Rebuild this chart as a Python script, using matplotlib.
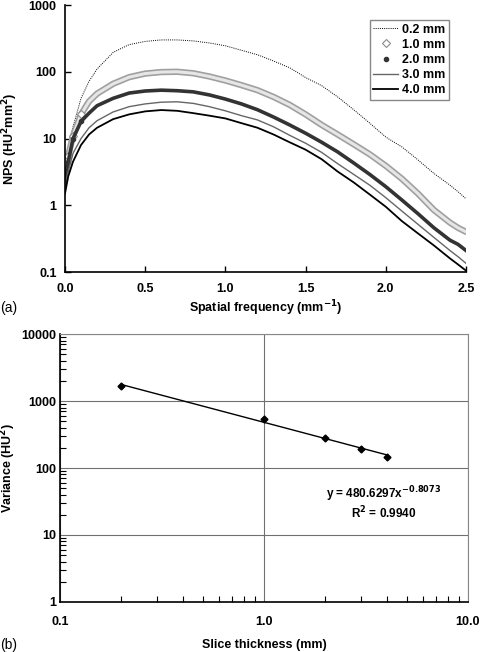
import numpy as np
import matplotlib
matplotlib.use("Agg")
import matplotlib.pyplot as plt
from matplotlib.lines import Line2D

plt.rcParams['font.family'] = ['Liberation Sans', 'DejaVu Sans']
plt.rcParams['font.weight'] = 'bold'
plt.rcParams['mathtext.default'] = 'bf'

# (a) NPS curves
freq = [0, 0.02, 0.05, 0.1, 0.15, 0.2, 0.3, 0.4, 0.5, 0.6, 0.7, 0.8, 0.9, 1.0, 1.1,
        1.2, 1.3, 1.4, 1.5, 1.6, 1.7, 1.8, 1.9, 2.0, 2.1, 2.2, 2.3, 2.4, 2.45, 2.5]
nps_02 = [3.5, 7, 15, 40, 72, 110, 195, 255, 285, 300, 300, 290, 270, 245, 210,
          180, 145, 115, 82, 62, 42, 27, 17, 10.5, 7.5, 4.8, 3.0, 2.0, 1.6, 1.25]
nps_10 = [3.4, 5.5, 11, 23, 36, 47, 66, 83, 94, 99, 100, 95, 85, 74, 63,
          53, 42, 32, 23, 16, 11.5, 8.2, 5.8, 3.9, 2.5, 1.5, 0.85, 0.55, 0.46, 0.40]
nps_20 = [2.5, 4.5, 10, 18, 24, 31, 40, 48, 51.5, 53, 52, 50, 45, 39, 33,
          27, 21, 16, 12, 8.8, 6.3, 4.3, 2.9, 1.9, 1.2, 0.75, 0.46, 0.30, 0.26, 0.21]
nps_30 = [2.0, 3.2, 6, 10, 14.5, 18.5, 25, 30, 33, 35, 35.5, 33.6, 30, 26, 22,
          19, 15, 11.2, 8.5, 6.2, 4.2, 2.9, 2.0, 1.3, 0.82, 0.52, 0.33, 0.21, 0.17, 0.135]
nps_40 = [1.5, 2.7, 4.5, 8, 11.5, 14.5, 19.5, 23, 25.5, 26.7, 26, 24, 22, 20, 17,
          14.5, 11.5, 8.8, 6.8, 4.9, 3.2, 2.2, 1.45, 0.95, 0.58, 0.38, 0.25, 0.16, 0.13, 0.105]

# (b) variance vs slice thickness
thickness = [0.2, 1.0, 2.0, 3.0, 4.0]
variance = [1690, 538, 283, 194, 147]
fit_a = 480.6297
fit_b = -0.8073
fit_r2 = 0.9940

fig = plt.figure(figsize=(4.8, 6.52), dpi=100)

# ---- panel (a)
ax1 = fig.add_axes([0.1354, 0.5828, 0.8354, 0.4095])
ax1.plot(freq, nps_02, color='black', lw=0.7, ls=(0, (1, 1.2)))
ax1.plot(freq, nps_10, color='#a0a0a0', lw=4.6, solid_capstyle='round')
ax1.plot(freq, nps_10, color='#e6e6e6', lw=2.2, marker='D', ms=4, mfc='white',
         mec='#8a8a8a', mew=0.8, markevery=slice(0, 4))
ax1.plot(freq, nps_20, color='#333333', lw=2.6, marker='o', ms=3,
         markevery=slice(0, 4))
ax1.plot(freq, nps_30, color='#666666', lw=1.0)
ax1.plot(freq, nps_40, color='black', lw=1.3)

ax1.set_yscale('log')
ax1.set_xlim(0, 2.5)
ax1.set_ylim(0.1, 1000)
ax1.set_xticks([0, 0.5, 1.0, 1.5, 2.0, 2.5])
ax1.set_xticklabels(['0.0', '0.5', '1.0', '1.5', '2.0', '2.5'])
ax1.set_yticks([0.1, 1, 10, 100, 1000])
ax1.set_yticklabels(['0.1', '1', '10', '100', '1000'])
ax1.yaxis.set_minor_locator(matplotlib.ticker.NullLocator())
ax1.tick_params(direction='in', length=4, width=1, labelsize=9, pad=6)
ax1.tick_params(axis='x', pad=8)
for s in ['top', 'right']:
    ax1.spines[s].set_visible(False)
for s in ['left', 'bottom']:
    ax1.spines[s].set_linewidth(1.2)
ax1.set_xlabel('Spatial frequency (mm$^{-1}$)', fontsize=9, fontweight='bold', labelpad=2)
ax1.set_ylabel('NPS (HU$^2$mm$^2$)', fontsize=9, fontweight='bold', labelpad=6)

handles = [
    Line2D([], [], color='black', lw=0.7, ls=(0, (1, 1.2))),
    Line2D([], [], ls='none', marker='D', ms=4, mfc='white', mec='#8a8a8a', mew=0.8),
    Line2D([], [], ls='none', marker='o', ms=3, color='#333333'),
    Line2D([], [], color='#666666', lw=1.0),
    Line2D([], [], color='black', lw=1.3),
]
labels = ['0.2 mm', '1.0 mm', '2.0 mm', '3.0 mm', '4.0 mm']
leg = ax1.legend(handles, labels, loc='upper right', bbox_to_anchor=(0.958, 0.944),
                 prop={'weight': 'bold', 'size': 9}, fancybox=False,
                 edgecolor='#888888', framealpha=1, handlelength=2.0,
                 handletextpad=0.3, labelspacing=0.25, borderpad=0.3,
                 borderaxespad=0)
leg.get_frame().set_linewidth(1.0)

fig.text(0.0, 0.521, '(a)', fontsize=10, fontweight='normal')

# ---- panel (b)
ax2 = fig.add_axes([0.125, 0.0767, 0.85, 0.411])
fit_x = np.geomspace(thickness[0], thickness[-1], 50)
ax2.plot(fit_x, fit_a * fit_x ** fit_b, color='black', lw=1.0)
ax2.plot(thickness, variance, ls='none', marker='D', ms=3.5, color='black')
ax2.set_xscale('log')
ax2.set_yscale('log')
ax2.set_xlim(0.1, 10)
ax2.set_ylim(1, 10000)
ax2.set_xticks([0.1, 1, 10])
ax2.set_xticklabels(['0.1', '1.0', '10.0'])
ax2.set_yticks([1, 10, 100, 1000, 10000])
ax2.set_yticklabels(['1', '10', '100', '1000', '10000'])
ax2.grid(True, which='major', color='#707070', lw=0.8)
ax2.tick_params(which='both', direction='in', labelsize=9)
ax2.tick_params(which='major', length=0)
ax2.tick_params(which='minor', length=4, width=0.8)
ax2.tick_params(axis='x', pad=10)
ax2.tick_params(axis='y', pad=3)
for s in ['top', 'right']:
    ax2.spines[s].set_color('#888888')
for s in ['left', 'bottom']:
    ax2.spines[s].set_linewidth(1.2)
ax2.set_xlabel('Slice thickness (mm)', fontsize=9, fontweight='bold', labelpad=8)
ax2.set_ylabel('Variance (HU$^2$)', fontsize=9, fontweight='bold', labelpad=2)

eq = 'y = %.4fx$^{%.4f}$\nR$^2$ = %.4f' % (fit_a, fit_b, fit_r2)
ax2.text(0.794, 0.37, eq, transform=ax2.transAxes, ha='center', va='center',
         multialignment='center', fontsize=8.5, fontweight='bold', linespacing=1.1)

fig.text(0.0, 0.0, '(b)', fontsize=10, fontweight='normal', va='bottom')

fig.savefig('out.png', dpi=100)
